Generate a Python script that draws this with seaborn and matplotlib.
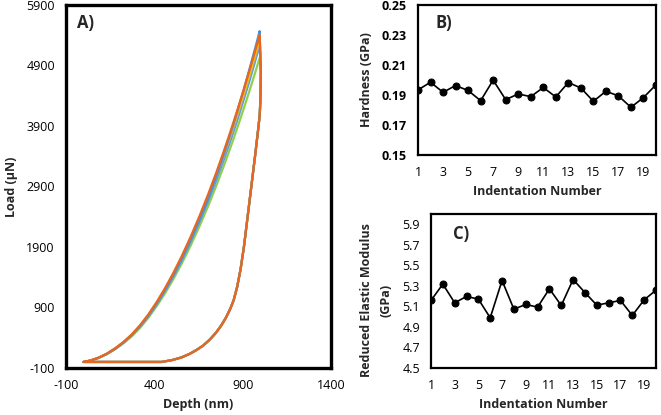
import matplotlib
matplotlib.use("Agg")
import matplotlib.pyplot as plt
import pandas as pd
import seaborn as sns

sns.set_theme(style="white")
plt.rcParams['font.family'] = ['Open Sans', 'DejaVu Sans']
plt.rcParams['axes.unicode_minus'] = False

# ---------------- data ----------------
indentation = list(range(1, 21))
hardness = [0.1934, 0.1985, 0.1918, 0.1963, 0.1930, 0.1862, 0.1999, 0.1869, 0.1907, 0.1889,
            0.1950, 0.1887, 0.1983, 0.1947, 0.1858, 0.1925, 0.1894, 0.1818, 0.1883, 0.1968]
modulus = [5.158, 5.317, 5.135, 5.197, 5.171, 4.989, 5.352, 5.073, 5.119, 5.093,
           5.271, 5.109, 5.362, 5.235, 5.112, 5.135, 5.158, 5.012, 5.164, 5.258]

# load-displacement curves: loading segment on a shared depth grid (nm), loads in µN
loading_depth = [0, 40, 84, 130, 178, 225, 272, 320, 366, 413, 460, 507, 554, 605, 657,
                 704, 751, 790, 827, 850, 873, 907, 940, 968, 985, 996]
curve_names = ["c_green", "c_blue2", "c_grey", "c_yellow", "c_blue1", "c_orange"]
curve_colors = ["#8FD14F", "#5B9BD5", "#A5A5A5", "#FFC000", "#4A90D9", "#E8661F"]
load_green = [0, 23, 65, 126, 209, 307, 423, 567, 730, 921, 1132, 1365, 1620, 1920, 2252,
              2572, 2915, 3214, 3511, 3701, 3898, 4195, 4495, 4757, 4919, 5025]
load_blue2 = [0, 24, 67, 130, 216, 317, 437, 586, 754, 950, 1168, 1409, 1672, 1982, 2324,
              2655, 3009, 3318, 3626, 3825, 4028, 4345, 4660, 4942, 5120, 5250]
load_grey = [0, 24, 68, 132, 219, 322, 444, 595, 765, 965, 1187, 1431, 1698, 2013, 2360,
             2697, 3056, 3370, 3683, 3885, 4090, 4405, 4725, 5005, 5180, 5300]
load_yellow = [0, 25, 69, 133, 222, 325, 448, 601, 773, 975, 1199, 1446, 1716, 2034, 2385,
               2724, 3087, 3405, 3720, 3922, 4130, 4448, 4768, 5050, 5225, 5340]
load_blue1 = [0, 24, 68, 132, 219, 322, 444, 595, 765, 965, 1187, 1431, 1698, 2013, 2360,
              2697, 3071, 3404, 3737, 3952, 4174, 4511, 4857, 5156, 5342, 5468]
load_orange = [0, 25, 70, 135, 225, 330, 455, 610, 785, 990, 1217, 1468, 1742, 2065, 2421,
               2766, 3134, 3456, 3775, 3980, 4191, 4511, 4833, 5115, 5289, 5403]
loading_loads = [load_green, load_blue2, load_grey, load_yellow, load_blue1, load_orange]

# unloading + retraction at zero load (shared, the curves overlap)
unload_depth = [1003, 1001, 997, 990, 970, 949, 928, 907, 888, 868, 849, 830, 805, 777,
                748, 714, 676, 640, 601, 554, 500, 441, 0]
unload_load = [4800, 4400, 4100, 3900, 3400, 2900, 2400, 1900, 1530, 1230, 1020, 880, 730,
               595, 480, 370, 270, 200, 135, 75, 30, 0, 0]

rows = []
for name, ld in zip(curve_names, loading_loads):
    depths = loading_depth + unload_depth
    loads = ld + unload_load
    for i, (d, l) in enumerate(zip(depths, loads)):
        rows.append({"curve": name, "order": i, "depth": d, "load": l})
df_curves = pd.DataFrame(rows)
df_points = pd.DataFrame({"n": indentation, "hardness": hardness, "modulus": modulus})

# ---------------- figure ----------------
W, H = 661, 415
fig = plt.figure(figsize=(W / 100, H / 100), dpi=100)

def ax_px(l, t, r, b):
    return fig.add_axes([l / W, 1 - b / H, (r - l) / W, (b - t) / H])

axA = ax_px(66, 5, 331, 368)
axB = ax_px(418, 5, 656, 155)
axC = ax_px(431, 214, 656, 368)

sns.lineplot(data=df_curves, x="depth", y="load", hue="curve", hue_order=curve_names,
             palette=curve_colors, sort=False, estimator=None, legend=False,
             linewidth=1.6, ax=axA)
axA.set_xlim(-100, 1400)
axA.set_ylim(-100, 5900)
axA.set_xticks([-100, 400, 900, 1400])
axA.set_yticks([-100, 900, 1900, 2900, 3900, 4900, 5900])
axA.set_xlabel("Depth (nm)", fontsize=9, fontweight="bold", labelpad=4)
axA.set_ylabel("Load (µN)", fontsize=9, fontweight="bold", labelpad=6)
axA.text(0.04, 0.975, "A)", transform=axA.transAxes, fontsize=12, fontweight="bold",
         va="top", ha="left")

sns.lineplot(data=df_points, x="n", y="hardness", color="black", marker="o",
             markersize=5, linewidth=1.2, markeredgecolor="black", ax=axB)
axB.set_xlim(1, 20)
axB.set_ylim(0.15, 0.25)
axB.set_xticks(list(range(1, 21, 2)))
axB.set_yticks([0.15, 0.17, 0.19, 0.21, 0.23, 0.25])
axB.set_yticklabels(["0.15", "0.17", "0.19", "0.21", "0.23", "0.25"], fontweight="bold")
axB.set_xlabel("Indentation Number", fontsize=9, fontweight="bold", labelpad=4)
axB.set_ylabel("Hardness (GPa)", fontsize=9, fontweight="bold", labelpad=6)
axB.text(0.075, 0.94, "B)", transform=axB.transAxes, fontsize=12, fontweight="bold",
         va="top", ha="left")

sns.lineplot(data=df_points, x="n", y="modulus", color="black", marker="o",
             markersize=5, linewidth=1.2, markeredgecolor="black", ax=axC)
axC.set_xlim(1, 20)
axC.set_ylim(4.5, 6.0)
axC.set_xticks(list(range(1, 21, 2)))
axC.set_yticks([4.5, 4.7, 4.9, 5.1, 5.3, 5.5, 5.7, 5.9])
axC.set_yticklabels(["4.5", "4.7", "4.9", "5.1", "5.3", "5.5", "5.7", "5.9"])
axC.set_xlabel("Indentation Number", fontsize=9, fontweight="bold", labelpad=4)
axC.set_ylabel("Reduced Elastic Modulus\n(GPa)", fontsize=9, fontweight="bold",
               linespacing=1.6)
axC.yaxis.label.set_va("center")
axC.yaxis.set_label_coords(-0.244, 0.44)
axC.text(0.1, 0.93, "C)", transform=axC.transAxes, fontsize=12, fontweight="bold",
         va="top", ha="left")

for ax, lw in ((axA, 2.4), (axB, 1.6), (axC, 1.6)):
    for sp in ax.spines.values():
        sp.set_color("black")
        sp.set_linewidth(lw)
    ax.tick_params(axis="both", length=0, labelsize=9, pad=8, colors="black")
    ax.grid(False)

fig.savefig("out.png", dpi=100)
